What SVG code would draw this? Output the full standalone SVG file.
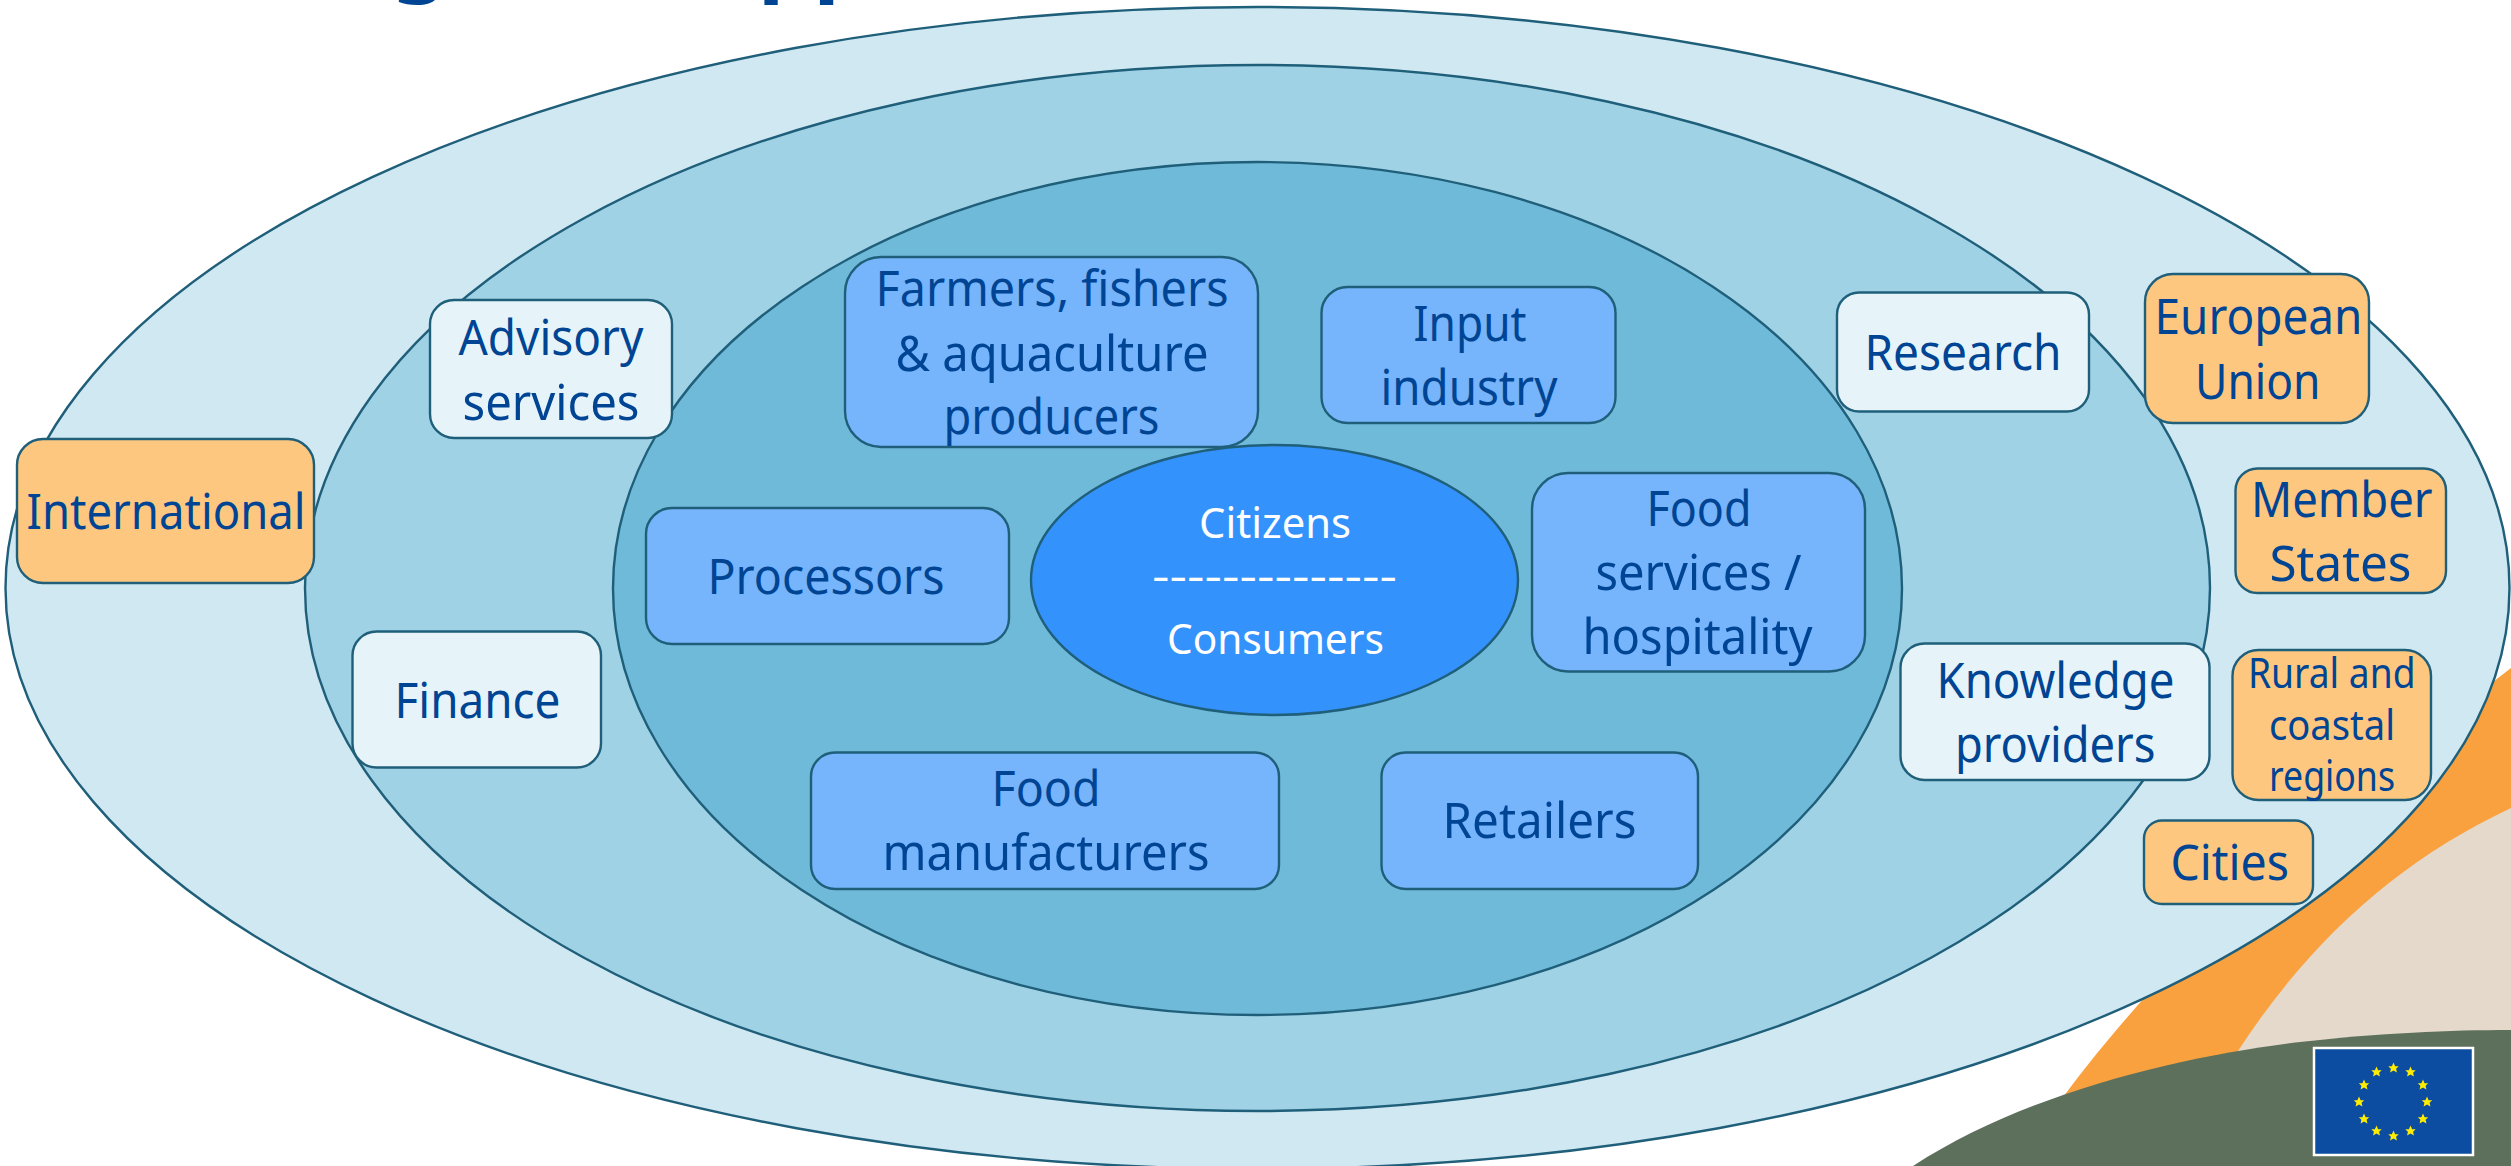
<svg xmlns="http://www.w3.org/2000/svg" width="2511" height="1166" viewBox="0 0 2511 1166">
<style>
text{font-family:"Noto Sans","DejaVu Sans",sans-serif;font-size:49px;fill:#004494}
.ring{stroke:#1f5f7a;stroke-width:2.400}
.b{stroke:#1f5f7a;stroke-width:2.400}
.core{fill:#76b4fb}.sup{fill:#e6f4fa}.gov{fill:#fec780}
text.w{fill:#fff;font-size:42px}
text.s{font-size:41px}
text.t{font-weight:700;font-size:88px}
</style>
<defs><path id="star" d="M0,-5.500L1.600,-1.700L5.200,-1.700L2.600,.8L3.400,4.500L0,2.400L-3.400,4.500L-2.600,.8L-5.200,-1.700L-1.600,-1.700Z" fill="#ffed00"/></defs>
<rect width="2511" height="1166" fill="#fff"/>
<g id="title-remnant"><text class="t" x="392" y="-16">g</text><text class="t" x="758" y="-16">pp</text></g>
<g id="background">
<path d="M2050,1115C2150,975 2300,830 2511,668V1166H2050Z" fill="#f9a13f"/>
<path d="M2238,1051C2310,940 2400,860 2511,808V1166H2238Z" fill="#e4d9ca"/>
<path d="M1913,1166C2030,1090 2190,1055 2300,1042C2380,1033 2450,1030 2511,1030V1166Z" fill="#5d705c"/>
</g>
<g id="flag">
<rect x="2314" y="1048" width="159" height="107" fill="#0c4da2" stroke="#fff" stroke-width="2.500"/>
<use href="#star" x="2393.500" y="1068"/><use href="#star" x="2410.500" y="1072"/><use href="#star" x="2423" y="1085"/><use href="#star" x="2427" y="1102"/><use href="#star" x="2423" y="1119"/><use href="#star" x="2410.500" y="1131"/><use href="#star" x="2393.500" y="1136"/><use href="#star" x="2376.500" y="1131"/><use href="#star" x="2364" y="1119"/><use href="#star" x="2359" y="1102"/><use href="#star" x="2364" y="1085"/><use href="#star" x="2376.500" y="1072"/>
</g>
<g id="rings">
<ellipse id="ring-outer" class="ring" cx="1257.500" cy="588" rx="1252" ry="581" fill="#d0e8f2"/>
<ellipse id="ring-middle" class="ring" cx="1257.500" cy="588" rx="952.500" ry="523" fill="#a0d2e6"/>
<ellipse id="ring-inner" class="ring" cx="1257.500" cy="588.500" rx="644.500" ry="426.500" fill="#70bad9"/>
</g>
<g id="connectors"></g>
<g id="international"><rect class="b gov" x="17" y="439" width="297" height="144" rx="26"/><text x="26.500" y="529" textLength="279" lengthAdjust="spacingAndGlyphs">International</text></g>
<g id="advisory"><rect class="b sup" x="430" y="300" width="242" height="138" rx="24"/><text x="458.500" y="355" textLength="185" lengthAdjust="spacingAndGlyphs">Advisory</text><text x="462.500" y="420" textLength="177" lengthAdjust="spacingAndGlyphs">services</text></g>
<g id="farmers"><rect class="b core" x="845" y="257" width="413" height="190" rx="36"/><text x="875.500" y="306" textLength="353" lengthAdjust="spacingAndGlyphs">Farmers, fishers</text><text x="895.500" y="371" textLength="313" lengthAdjust="spacingAndGlyphs">&amp; aquaculture</text><text x="943.500" y="434" textLength="216" lengthAdjust="spacingAndGlyphs">producers</text></g>
<g id="input"><rect class="b core" x="1321.500" y="287" width="294" height="136" rx="26"/><text x="1413.500" y="341" textLength="113" lengthAdjust="spacingAndGlyphs">Input</text><text x="1380.500" y="405" textLength="177" lengthAdjust="spacingAndGlyphs">industry</text></g>
<g id="processors"><rect class="b core" x="646" y="508" width="363" height="136" rx="26"/><text x="707.500" y="594" textLength="237" lengthAdjust="spacingAndGlyphs">Processors</text></g>
<g id="citizens"><ellipse class="b" cx="1274.500" cy="580" rx="243.500" ry="135" fill="#3392fb"/><text class="w" x="1199" y="538" textLength="152" lengthAdjust="spacingAndGlyphs">Citizens</text><text class="w" x="1152" y="591" textLength="245" lengthAdjust="spacingAndGlyphs">--------------</text><text class="w" x="1167" y="654" textLength="217" lengthAdjust="spacingAndGlyphs">Consumers</text></g>
<g id="food-services"><rect class="b core" x="1532" y="473" width="333" height="198.500" rx="36"/><text x="1646.500" y="526" textLength="105" lengthAdjust="spacingAndGlyphs">Food</text><text x="1595.500" y="590" textLength="206" lengthAdjust="spacingAndGlyphs">services /</text><text x="1582.500" y="654" textLength="230" lengthAdjust="spacingAndGlyphs">hospitality</text></g>
<g id="food-manufacturers"><rect class="b core" x="811" y="752.500" width="468" height="136.500" rx="24"/><text x="991.500" y="806" textLength="109" lengthAdjust="spacingAndGlyphs">Food</text><text x="882.500" y="870" textLength="327" lengthAdjust="spacingAndGlyphs">manufacturers</text></g>
<g id="retailers"><rect class="b core" x="1381.500" y="752.500" width="316.500" height="136.500" rx="24"/><text x="1442.500" y="838" textLength="194" lengthAdjust="spacingAndGlyphs">Retailers</text></g>
<g id="finance"><rect class="b sup" x="352.500" y="631.500" width="248.500" height="136" rx="24"/><text x="394.500" y="718" textLength="166" lengthAdjust="spacingAndGlyphs">Finance</text></g>
<g id="research"><rect class="b sup" x="1837" y="292.500" width="252" height="119" rx="22"/><text x="1864.500" y="370" textLength="197" lengthAdjust="spacingAndGlyphs">Research</text></g>
<g id="knowledge"><rect class="b sup" x="1900.500" y="643.500" width="309" height="136.500" rx="24"/><text x="1936.500" y="698" textLength="238" lengthAdjust="spacingAndGlyphs">Knowledge</text><text x="1955" y="762" textLength="200.500" lengthAdjust="spacingAndGlyphs">providers</text></g>
<g id="european-union"><rect class="b gov" x="2145" y="274" width="224" height="149" rx="28"/><text x="2154.500" y="334" textLength="208" lengthAdjust="spacingAndGlyphs">European</text><text x="2195" y="399" textLength="125.500" lengthAdjust="spacingAndGlyphs">Union</text></g>
<g id="member-states"><rect class="b gov" x="2235.500" y="468.500" width="210.500" height="124.500" rx="22"/><text x="2251" y="517" textLength="181.500" lengthAdjust="spacingAndGlyphs">Member</text><text x="2269.500" y="581" textLength="142" lengthAdjust="spacingAndGlyphs">States</text></g>
<g id="rural-coastal"><rect class="b gov" x="2232.500" y="650" width="198.500" height="150" rx="26"/><text class="s" x="2248" y="688" textLength="167.500" lengthAdjust="spacingAndGlyphs">Rural and</text><text class="s" x="2269" y="740" textLength="126" lengthAdjust="spacingAndGlyphs">coastal</text><text class="s" x="2269" y="791" textLength="126" lengthAdjust="spacingAndGlyphs">regions</text></g>
<g id="cities"><rect class="b gov" x="2144" y="820.500" width="169" height="83.500" rx="18"/><text x="2170.500" y="880" textLength="118.500" lengthAdjust="spacingAndGlyphs">Cities</text></g>
</svg>
